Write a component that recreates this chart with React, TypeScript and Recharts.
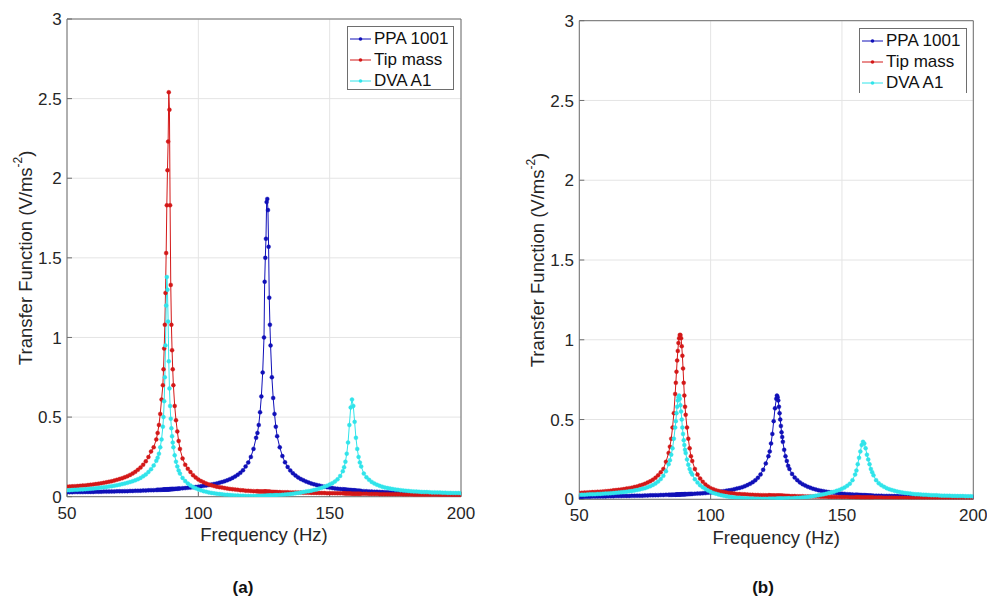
import React from 'react';
import { LineChart, Line, XAxis, YAxis, CartesianGrid, Legend, ReferenceLine, Label } from 'recharts';

// Frequency grid (Hz)
const FREQ = [
  50, 51, 52, 53, 54, 55, 56, 57, 58, 59, 60, 61, 62, 63, 64, 65, 66, 67, 68, 69, 70, 71, 72, 73, 74, 75, 76, 77, 78, 79, 80, 81, 82, 83, 84,
  84.5, 85, 85.5, 86, 86.5, 86.75, 87, 87.25, 87.5, 87.75, 88, 88.25, 88.5, 88.75, 89, 89.25, 89.5, 89.75, 90, 90.25, 90.5, 91, 91.5, 92, 92.5, 93,
  94, 95, 96, 97, 98, 99, 100, 101, 102, 103, 104, 105, 106, 107, 108, 109, 110, 111, 112, 113, 114, 115, 116, 117, 118, 119, 120, 121, 122,
  122.5, 123, 123.5, 124, 124.5, 125, 125.25, 125.5, 125.75, 126, 126.25, 126.5, 126.75, 127, 127.25, 127.5, 128, 128.5, 129, 129.5, 130,
  131, 132, 133, 134, 135, 136, 137, 138, 139, 140, 141, 142, 143, 144, 145, 146, 147, 148, 149, 150, 151, 152, 153, 154, 155,
  155.5, 156, 156.5, 157, 157.5, 158, 158.5, 159, 159.5, 160, 160.5, 161, 161.5, 162,
  163, 164, 165, 166, 167, 168, 169, 170, 171, 172, 173, 174, 175, 176, 177, 178, 179, 180, 181, 182, 183, 184, 185, 186, 187, 188, 189, 190, 191, 192, 193, 194, 195, 196, 197, 198, 199, 200,
];

// Panel (a)
const PPA_A = [
  0.028, 0.028, 0.028, 0.029, 0.029, 0.029, 0.029, 0.030, 0.030, 0.030, 0.030, 0.031, 0.031, 0.031, 0.032, 0.032, 0.032, 0.033, 0.033, 0.034, 0.034, 0.034, 0.035, 0.035, 0.036, 0.036, 0.037, 0.037, 0.038, 0.039, 0.039, 0.040, 0.041, 0.041, 0.042,
  0.043, 0.043, 0.043, 0.044, 0.044, 0.045, 0.045, 0.045, 0.045, 0.045, 0.046, 0.046, 0.046, 0.046, 0.047, 0.047, 0.047, 0.048, 0.048, 0.048, 0.048, 0.049, 0.050, 0.050, 0.051, 0.051,
  0.053, 0.054, 0.056, 0.057, 0.059, 0.061, 0.063, 0.065, 0.068, 0.070, 0.073, 0.076, 0.080, 0.083, 0.088, 0.092, 0.097, 0.103, 0.110, 0.118, 0.127, 0.138, 0.150, 0.166, 0.190, 0.215, 0.250, 0.300, 0.370,
  0.40, 0.45, 0.53, 0.63, 0.78, 1.00, 1.35, 1.50, 1.62, 1.85, 1.87, 1.80, 1.57, 1.25, 1.08, 0.95, 0.75, 0.62, 0.52, 0.44, 0.38,
  0.31, 0.255, 0.216, 0.187, 0.165, 0.147, 0.133, 0.121, 0.111, 0.103, 0.095, 0.089, 0.083, 0.078, 0.074, 0.070, 0.066, 0.063, 0.060, 0.057, 0.055, 0.052, 0.050, 0.048, 0.047,
  0.046, 0.045, 0.044, 0.043, 0.042, 0.042, 0.041, 0.040, 0.040, 0.039, 0.038, 0.038, 0.037, 0.036,
  0.035, 0.034, 0.033, 0.032, 0.031, 0.031, 0.030, 0.029, 0.028, 0.028, 0.027, 0.026, 0.026, 0.025, 0.024, 0.024, 0.023, 0.023, 0.022, 0.022, 0.021, 0.021, 0.021, 0.020, 0.020, 0.019, 0.019, 0.019, 0.018, 0.018, 0.018, 0.017, 0.017, 0.017, 0.016, 0.016, 0.016, 0.016,
];
const TIP_A = [
  0.063, 0.064, 0.065, 0.066, 0.067, 0.068, 0.070, 0.071, 0.073, 0.075, 0.077, 0.079, 0.082, 0.084, 0.087, 0.090, 0.094, 0.097, 0.101, 0.106, 0.111, 0.116, 0.122, 0.129, 0.137, 0.146, 0.156, 0.169, 0.183, 0.201, 0.222, 0.249, 0.284, 0.31, 0.36,
  0.40, 0.45, 0.52, 0.61, 0.70, 0.80, 0.93, 1.08, 1.28, 1.53, 1.83, 2.05, 2.23, 2.54, 2.43, 1.83, 1.33, 1.08, 0.92, 0.80, 0.70, 0.57, 0.48, 0.41, 0.35, 0.30,
  0.24, 0.20, 0.175, 0.155, 0.135, 0.12, 0.108, 0.098, 0.090, 0.083, 0.077, 0.072, 0.067, 0.063, 0.060, 0.057, 0.054, 0.051, 0.049, 0.047, 0.045, 0.043, 0.041, 0.040, 0.038, 0.037, 0.036, 0.035, 0.034,
  0.034, 0.033, 0.033, 0.033, 0.032, 0.032, 0.032, 0.032, 0.032, 0.031, 0.031, 0.031, 0.031, 0.031, 0.031, 0.030, 0.030, 0.030, 0.029, 0.029, 0.029,
  0.029, 0.028, 0.028, 0.028, 0.027, 0.027, 0.027, 0.026, 0.026, 0.025, 0.025, 0.025, 0.024, 0.024, 0.024, 0.023, 0.023, 0.023, 0.022, 0.022, 0.022, 0.022, 0.021, 0.021, 0.021,
  0.021, 0.020, 0.020, 0.020, 0.020, 0.020, 0.019, 0.019, 0.019, 0.019, 0.019, 0.019, 0.018, 0.018,
  0.018, 0.018, 0.017, 0.017, 0.017, 0.017, 0.016, 0.016, 0.016, 0.016, 0.015, 0.015, 0.015, 0.015, 0.015, 0.014, 0.014, 0.014, 0.014, 0.013, 0.013, 0.013, 0.013, 0.013, 0.012, 0.012, 0.012, 0.012, 0.012, 0.011, 0.011, 0.011, 0.011, 0.011, 0.010, 0.010, 0.010, 0.010,
];
const DVA_A = [
  0.040, 0.041, 0.042, 0.043, 0.044, 0.045, 0.046, 0.047, 0.048, 0.050, 0.051, 0.053, 0.055, 0.057, 0.059, 0.061, 0.064, 0.066, 0.069, 0.072, 0.075, 0.079, 0.083, 0.087, 0.092, 0.097, 0.103, 0.110, 0.118, 0.128, 0.140, 0.155, 0.173, 0.196, 0.225,
  0.245, 0.27, 0.31, 0.36, 0.44, 0.50, 0.60, 0.75, 0.95, 1.20, 1.38, 1.30, 1.10, 0.85, 0.68, 0.57, 0.49, 0.43, 0.38, 0.34, 0.31, 0.26, 0.22, 0.19, 0.165, 0.145,
  0.118, 0.098, 0.083, 0.071, 0.061, 0.053, 0.046, 0.040, 0.035, 0.031, 0.027, 0.024, 0.021, 0.019, 0.017, 0.015, 0.013, 0.012, 0.010, 0.009, 0.008, 0.007, 0.006, 0.006, 0.005, 0.005, 0.004, 0.004, 0.004,
  0.004, 0.004, 0.004, 0.004, 0.005, 0.005, 0.005, 0.005, 0.005, 0.006, 0.006, 0.006, 0.006, 0.006, 0.007, 0.007, 0.007, 0.008, 0.009, 0.009, 0.010,
  0.011, 0.012, 0.014, 0.015, 0.017, 0.019, 0.021, 0.024, 0.026, 0.029, 0.032, 0.035, 0.038, 0.042, 0.046, 0.051, 0.056, 0.062, 0.069, 0.076, 0.085, 0.095, 0.109, 0.130, 0.160,
  0.185, 0.22, 0.27, 0.34, 0.45, 0.56, 0.61, 0.57, 0.47, 0.37, 0.30, 0.25, 0.215, 0.19,
  0.145, 0.122, 0.106, 0.093, 0.083, 0.075, 0.068, 0.063, 0.058, 0.054, 0.051, 0.048, 0.045, 0.043, 0.041, 0.039, 0.037, 0.036, 0.034, 0.033, 0.032, 0.031, 0.030, 0.029, 0.029, 0.028, 0.027, 0.027, 0.026, 0.026, 0.025, 0.025, 0.024, 0.024, 0.023, 0.023, 0.023, 0.022,
];

// Panel (b)
const PPA_B = [
  0.015, 0.015, 0.016, 0.016, 0.016, 0.017, 0.017, 0.017, 0.018, 0.018, 0.018, 0.019, 0.019, 0.019, 0.020, 0.020, 0.020, 0.021, 0.021, 0.021, 0.022, 0.022, 0.023, 0.023, 0.023, 0.024, 0.024, 0.025, 0.025, 0.026, 0.026, 0.027, 0.027, 0.028, 0.028,
  0.028, 0.028, 0.029, 0.029, 0.029, 0.029, 0.030, 0.030, 0.030, 0.030, 0.030, 0.030, 0.030, 0.031, 0.031, 0.031, 0.031, 0.031, 0.032, 0.032, 0.032, 0.032, 0.033, 0.033, 0.034, 0.034,
  0.035, 0.036, 0.037, 0.038, 0.039, 0.041, 0.042, 0.044, 0.045, 0.047, 0.049, 0.051, 0.054, 0.056, 0.059, 0.063, 0.067, 0.071, 0.076, 0.082, 0.089, 0.097, 0.107, 0.119, 0.135, 0.156, 0.185, 0.225, 0.27,
  0.30, 0.35, 0.41, 0.49, 0.57, 0.63, 0.65, 0.64, 0.62, 0.58, 0.54, 0.50, 0.46, 0.42, 0.39, 0.36, 0.31, 0.27, 0.24, 0.21, 0.19,
  0.159, 0.136, 0.120, 0.106, 0.095, 0.086, 0.078, 0.072, 0.066, 0.062, 0.057, 0.054, 0.051, 0.048, 0.045, 0.043, 0.041, 0.039, 0.037, 0.035, 0.034, 0.032, 0.031, 0.030, 0.029,
  0.028, 0.028, 0.027, 0.027, 0.026, 0.026, 0.026, 0.025, 0.025, 0.024, 0.024, 0.024, 0.023, 0.023,
  0.023, 0.022, 0.022, 0.021, 0.021, 0.021, 0.020, 0.020, 0.020, 0.019, 0.019, 0.019, 0.018, 0.018, 0.018, 0.018, 0.017, 0.017, 0.017, 0.017, 0.016, 0.016, 0.016, 0.016, 0.016, 0.015, 0.015, 0.015, 0.015, 0.015, 0.014, 0.014, 0.014, 0.014, 0.014, 0.014, 0.013, 0.013,
];
const TIP_B = [
  0.040, 0.041, 0.042, 0.043, 0.044, 0.045, 0.046, 0.047, 0.048, 0.049, 0.051, 0.052, 0.054, 0.056, 0.058, 0.060, 0.062, 0.064, 0.067, 0.070, 0.073, 0.077, 0.081, 0.086, 0.091, 0.097, 0.105, 0.113, 0.123, 0.135, 0.150, 0.169, 0.19, 0.235, 0.29,
  0.33, 0.38, 0.45, 0.54, 0.66, 0.73, 0.80, 0.87, 0.93, 0.98, 1.01, 1.03, 1.03, 1.01, 0.96, 0.90, 0.82, 0.73, 0.65, 0.58, 0.53, 0.45, 0.38, 0.32, 0.27, 0.24,
  0.19, 0.155, 0.13, 0.11, 0.093, 0.08, 0.07, 0.063, 0.057, 0.052, 0.048, 0.045, 0.042, 0.040, 0.038, 0.036, 0.034, 0.033, 0.032, 0.031, 0.030, 0.029, 0.028, 0.027, 0.027, 0.026, 0.026, 0.025, 0.025,
  0.025, 0.024, 0.024, 0.024, 0.024, 0.023, 0.023, 0.023, 0.023, 0.023, 0.023, 0.022, 0.022, 0.022, 0.022, 0.022, 0.022, 0.021, 0.021, 0.021, 0.020,
  0.020, 0.020, 0.019, 0.019, 0.019, 0.018, 0.018, 0.018, 0.017, 0.017, 0.017, 0.016, 0.016, 0.016, 0.015, 0.015, 0.015, 0.015, 0.014, 0.014, 0.014, 0.014, 0.013, 0.013, 0.013,
  0.013, 0.013, 0.013, 0.012, 0.012, 0.012, 0.012, 0.012, 0.012, 0.012, 0.012, 0.011, 0.011, 0.011,
  0.011, 0.011, 0.011, 0.010, 0.010, 0.010, 0.010, 0.010, 0.009, 0.009, 0.009, 0.009, 0.009, 0.008, 0.008, 0.008, 0.008, 0.008, 0.007, 0.007, 0.007, 0.007, 0.007, 0.007, 0.006, 0.006, 0.006, 0.006, 0.006, 0.006, 0.005, 0.005, 0.005, 0.005, 0.005, 0.005, 0.005, 0.005,
];
const DVA_B = [
  0.028, 0.029, 0.029, 0.030, 0.031, 0.031, 0.032, 0.033, 0.034, 0.035, 0.036, 0.037, 0.038, 0.039, 0.041, 0.042, 0.044, 0.046, 0.048, 0.050, 0.052, 0.055, 0.058, 0.062, 0.066, 0.070, 0.076, 0.082, 0.090, 0.099, 0.111, 0.127, 0.147, 0.176, 0.220,
  0.245, 0.28, 0.32, 0.38, 0.45, 0.49, 0.54, 0.58, 0.62, 0.64, 0.65, 0.63, 0.59, 0.55, 0.50, 0.45, 0.41, 0.37, 0.34, 0.31, 0.29, 0.25, 0.217, 0.19, 0.17, 0.155,
  0.125, 0.105, 0.088, 0.075, 0.064, 0.055, 0.047, 0.040, 0.035, 0.030, 0.026, 0.022, 0.019, 0.016, 0.014, 0.012, 0.010, 0.009, 0.008, 0.007, 0.006, 0.005, 0.005, 0.004, 0.004, 0.003, 0.003, 0.003, 0.003,
  0.003, 0.003, 0.003, 0.003, 0.003, 0.003, 0.003, 0.003, 0.004, 0.004, 0.004, 0.004, 0.004, 0.004, 0.004, 0.004, 0.005, 0.005, 0.005, 0.006, 0.006,
  0.007, 0.008, 0.009, 0.010, 0.012, 0.013, 0.015, 0.017, 0.019, 0.022, 0.025, 0.028, 0.031, 0.035, 0.040, 0.044, 0.048, 0.053, 0.059, 0.066, 0.074, 0.085, 0.098, 0.120, 0.155,
  0.18, 0.22, 0.26, 0.30, 0.34, 0.36, 0.35, 0.32, 0.28, 0.25, 0.22, 0.19, 0.17, 0.15,
  0.12, 0.10, 0.088, 0.078, 0.070, 0.063, 0.058, 0.053, 0.049, 0.045, 0.042, 0.040, 0.038, 0.036, 0.034, 0.032, 0.031, 0.030, 0.029, 0.028, 0.027, 0.026, 0.025, 0.025, 0.024, 0.023, 0.023, 0.022, 0.022, 0.021, 0.021, 0.020, 0.020, 0.020, 0.019, 0.019, 0.019, 0.018,
];

const SERIES_NAMES = ['PPA 1001', 'Tip mass', 'DVA A1'];
const X_TICKS = [50, 100, 150, 200];
const Y_TICKS = [0, 0.5, 1, 1.5, 2, 2.5, 3];
const PANEL_LABELS = ['(a)', '(b)'];
const X_LABEL = 'Frequency (Hz)';
const Y_LABEL = 'Transfer Function (V/ms';

const COLORS = ['#1010b8', '#d31818', '#30e4ea'];
const KEYS = ['ppa', 'tip', 'dva'];
const FONT = '"Liberation Sans", Arial, Helvetica, sans-serif';
const TEXT_COLOR = '#262626';
const AXIS_COLOR = '#6e6e6e';

function buildRows(ppa: number[], tip: number[], dva: number[]) {
  return FREQ.map((f, i) => ({ f, ppa: ppa[i], tip: tip[i], dva: dva[i] }));
}

const ROWS_A = buildRows(PPA_A, TIP_A, DVA_A);
const ROWS_B = buildRows(PPA_B, TIP_B, DVA_B);

const YLabelContent = (props: any) => {
  const vb = props.viewBox || {};
  const cx = vb.x + vb.width - 41.5;
  const cy = vb.y + vb.height / 2;
  return (
    <text
      x={cx}
      y={cy}
      transform={`rotate(-90, ${cx}, ${cy})`}
      textAnchor="middle"
      dominantBaseline="central"
      fontSize={18.5}
      fontFamily={FONT}
      fill={TEXT_COLOR}
    >
      {Y_LABEL}
      <tspan dy={-7} fontSize={12}>-2</tspan>
      <tspan dy={7}>)</tspan>
    </text>
  );
};

const XLabelContent = (props: any) => {
  const vb = props.viewBox || {};
  return (
    <text
      x={vb.x + vb.width / 2}
      y={vb.y + 44.3}
      textAnchor="middle"
      fontSize={18.5}
      fontFamily={FONT}
      fill={TEXT_COLOR}
    >
      {X_LABEL}
    </text>
  );
};

const LegendBox = ({ payload, noBottom }: any) => {
  const items = [...(payload || [])].sort(
    (a: any, b: any) => SERIES_NAMES.indexOf(a.value) - SERIES_NAMES.indexOf(b.value)
  );
  return (
    <div
      style={{
        width: '100%',
        height: '100%',
        boxSizing: 'border-box',
        border: `1px solid ${AXIS_COLOR}`,
        borderBottom: noBottom ? 'none' : `1px solid ${AXIS_COLOR}`,
        background: '#fff',
        paddingTop: 1,
        paddingLeft: 2,
        fontFamily: FONT,
      }}
    >
      {items.map((it: any) => (
        <div key={it.value} style={{ display: 'flex', alignItems: 'center', height: 21 }}>
          <svg width={21} height={10} style={{ display: 'block' }}>
            <line x1={0} y1={5} x2={21} y2={5} stroke={it.color} strokeWidth={1} />
            <circle cx={10.5} cy={5} r={1.8} fill={it.color} />
          </svg>
          <span style={{ marginLeft: 3, fontSize: 17, lineHeight: '21px', color: '#111', whiteSpace: 'nowrap' }}>
            {it.value}
          </span>
        </div>
      ))}
    </div>
  );
};

type PanelProps = {
  rows: any[];
  width: number;
  margin: { top: number; right: number; bottom: number; left: number };
  yAxisWidth: number;
  legend: { left: number; top: number; width: number; height: number; noBottom?: boolean };
};

const Panel = ({ rows, width, margin, yAxisWidth, legend }: PanelProps) => (
  <LineChart width={width} height={602} data={rows} margin={margin} style={{ fontFamily: FONT }}>
    <CartesianGrid stroke="#e4e4e4" strokeWidth={1} />
    <XAxis
      dataKey="f"
      type="number"
      domain={[50, 200]}
      ticks={X_TICKS}
      allowDataOverflow
      height={30}
      stroke={AXIS_COLOR}
      tickSize={-5}
      tickMargin={15}
      tick={{ fontSize: 17, fill: TEXT_COLOR, fontFamily: FONT }}
    >
      <Label content={XLabelContent} />
    </XAxis>
    <YAxis
      type="number"
      domain={[0, 3]}
      ticks={Y_TICKS}
      allowDataOverflow
      width={yAxisWidth}
      stroke={AXIS_COLOR}
      tickSize={-5}
      tickMargin={10.3}
      tick={{ fontSize: 17, fill: TEXT_COLOR, fontFamily: FONT }}
    >
      <Label content={YLabelContent} />
    </YAxis>
    <ReferenceLine y={3} stroke={AXIS_COLOR} strokeWidth={1} />
    <ReferenceLine x={200} stroke={AXIS_COLOR} strokeWidth={1} />
    {KEYS.map((k, i) => (
      <Line
        key={k}
        dataKey={k}
        name={SERIES_NAMES[i]}
        type="linear"
        stroke={COLORS[i]}
        strokeWidth={1}
        dot={{ r: 2, fill: COLORS[i], stroke: COLORS[i], strokeWidth: 0.4 }}
        activeDot={false}
        isAnimationActive={false}
      />
    ))}
    <Legend
      layout="horizontal"
      align="center"
      verticalAlign="middle"
      wrapperStyle={{ left: legend.left, top: legend.top, width: legend.width, height: legend.height }}
      content={(p: any) => <LegendBox payload={p.payload} noBottom={legend.noBottom} />}
    />
  </LineChart>
);

export default function App() {
  return (
    <div style={{ position: 'absolute', left: 0, top: 0, width: 987, height: 602, background: '#fff', overflow: 'hidden' }}>
      <div style={{ position: 'absolute', left: 0, top: 0 }}>
        <Panel
          rows={ROWS_A}
          width={480}
          margin={{ top: 19, right: 19, bottom: 75.3, left: 0 }}
          yAxisWidth={67}
          legend={{ left: 347, top: 26, width: 107, height: 64 }}
        />
      </div>
      <div style={{ position: 'absolute', left: 500, top: 0 }}>
        <Panel
          rows={ROWS_B}
          width={487}
          margin={{ top: 20.7, right: 13.7, bottom: 72.7, left: 0 }}
          yAxisWidth={79.3}
          legend={{ left: 359, top: 28, width: 108, height: 65, noBottom: true }}
        />
      </div>
      <div style={{ position: 'absolute', left: 213, top: 578, width: 60, textAlign: 'center', fontFamily: FONT, fontWeight: 'bold', fontSize: 17, lineHeight: '20px', color: '#111' }}>
        {PANEL_LABELS[0]}
      </div>
      <div style={{ position: 'absolute', left: 733, top: 578, width: 60, textAlign: 'center', fontFamily: FONT, fontWeight: 'bold', fontSize: 17, lineHeight: '20px', color: '#111' }}>
        {PANEL_LABELS[1]}
      </div>
    </div>
  );
}
